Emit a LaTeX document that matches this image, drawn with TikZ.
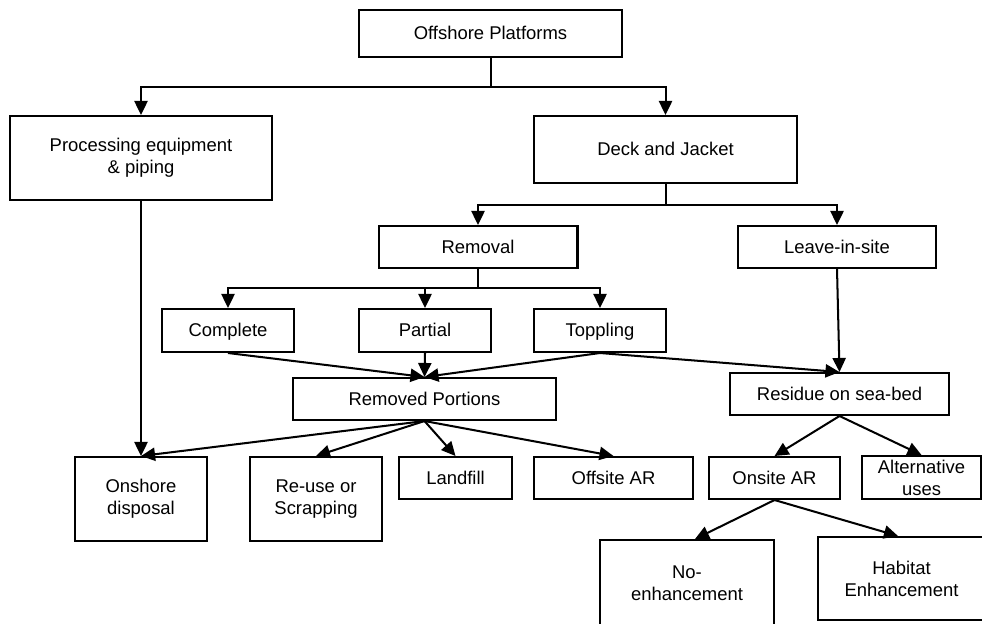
\documentclass[tikz,border=0pt]{standalone}
\usepackage{fontspec}
\setmainfont{Liberation Sans}
\usepackage{tikz}
\usetikzlibrary{arrows.meta,positioning}

\tikzset{
  box/.style={draw, line width=1.15pt, align=center, inner sep=2pt,
    font=\fontsize{10.5}{12.6}\selectfont},
  box1/.style={box, text height=0.73em, text depth=0pt},
  arr/.style={-{Triangle[length=8pt,width=7.5pt]}, line width=1.15pt},
  ln/.style={line width=1.15pt}
}

\begin{document}
\begin{tikzpicture}[x=0.02cm, y=-0.02cm]
\useasboundingbox (0,0) rectangle (982,623);
% Top levels
\node[box1, minimum width=5.26cm, minimum height=0.94cm] (plat) at (490.5,33.5) {Offshore Platforms};
\node[box, minimum width=5.24cm, minimum height=1.68cm] (proc) at (141,158) {Processing equipment\\ \& piping};
\node[box1, minimum width=5.26cm, minimum height=1.34cm] (deck) at (665.5,149.5) {Deck and Jacket};
\node[box1, minimum width=3.98cm, minimum height=0.84cm] (remv) at (478,247) {Removal};
\node[box1, minimum width=3.96cm, minimum height=0.84cm] (leave) at (837,247) {Leave-in-site};
% Removal options
\node[box1, minimum width=2.64cm, minimum height=0.86cm] (compl) at (228,330.5) {Complete};
\node[box1, minimum width=2.64cm, minimum height=0.86cm] (part) at (425,330.5) {Partial};
\node[box1, minimum width=2.64cm, minimum height=0.86cm] (topp) at (600,330.5) {Toppling};
\node[box1, minimum width=5.26cm, minimum height=0.84cm] (rport) at (424.5,399) {Removed Portions};
\node[box1, minimum width=4.38cm, minimum height=0.84cm] (resid) at (839.5,394) {Residue on sea-bed};
% Fates
\node[box, minimum width=2.64cm, minimum height=1.68cm] (onsh) at (141,499) {Onshore\\ disposal};
\node[box, minimum width=2.64cm, minimum height=1.68cm] (reuse) at (316,499) {Re-use or\\ Scrapping};
\node[box1, minimum width=2.26cm, minimum height=0.84cm] (landf) at (455.5,478) {Landfill};
\node[box1, minimum width=3.18cm, minimum height=0.84cm] (offar) at (613.5,478) {Offsite AR};
\node[box1, minimum width=2.62cm, minimum height=0.84cm] (onar) at (774.5,478) {Onsite AR};
\node[box, minimum width=2.38cm, minimum height=0.86cm, inner sep=0pt] (altu) at (921.5,477.5) {Alternative\\ uses};
\node[box, minimum width=3.48cm, minimum height=1.72cm] (noenh) at (687,583) {No-\\ enhancement};
\node[box, minimum width=3.34cm, minimum height=1.66cm] (habit) at (901.5,578.5) {Habitat\\ Enhancement};
% Tree connectors
\coordinate (j1) at (490.5,87);
\coordinate (j2) at (665.5,205);
\coordinate (j3) at (478,288);
\draw[ln] (plat.south) -- (j1);
\draw[arr] (j1) -| (proc.north);
\draw[arr] (j1) -| (deck.north);
\draw[ln] (deck.south) -- (j2);
\draw[arr] (j2) -| (remv.north);
\draw[arr] (j2) -| (leave.north);
\draw[ln] (remv.south) -- (j3);
\draw[arr] (j3) -| (compl.north);
\draw[arr] (j3) -| (part.north);
\draw[arr] (j3) -| (topp.north);
% Straight connectors
\draw[arr] (compl.south) -- (rport.north);
\draw[arr] (part.south) -- (rport.north);
\draw[arr] (topp.south) -- (rport.north);
\draw[arr] (topp.south) -- (resid.north);
\draw[arr] (leave.south) -- (resid.north);
\draw[arr] (proc.south) -- (onsh.north);
\draw[arr] (rport.south) -- (onsh.north);
\draw[arr] (rport.south) -- (reuse.north);
\draw[arr] (rport.south) -- (landf.north);
\draw[arr] (rport.south) -- (offar.north);
\draw[arr] (resid.south) -- (onar.north);
\draw[arr] (resid.south) -- (altu.north);
\draw[arr] (onar.south) -- ([xshift=0.16cm]noenh.north);
\draw[arr] (onar.south) -- ([xshift=-0.07cm]habit.north);
\end{tikzpicture}
\end{document}
